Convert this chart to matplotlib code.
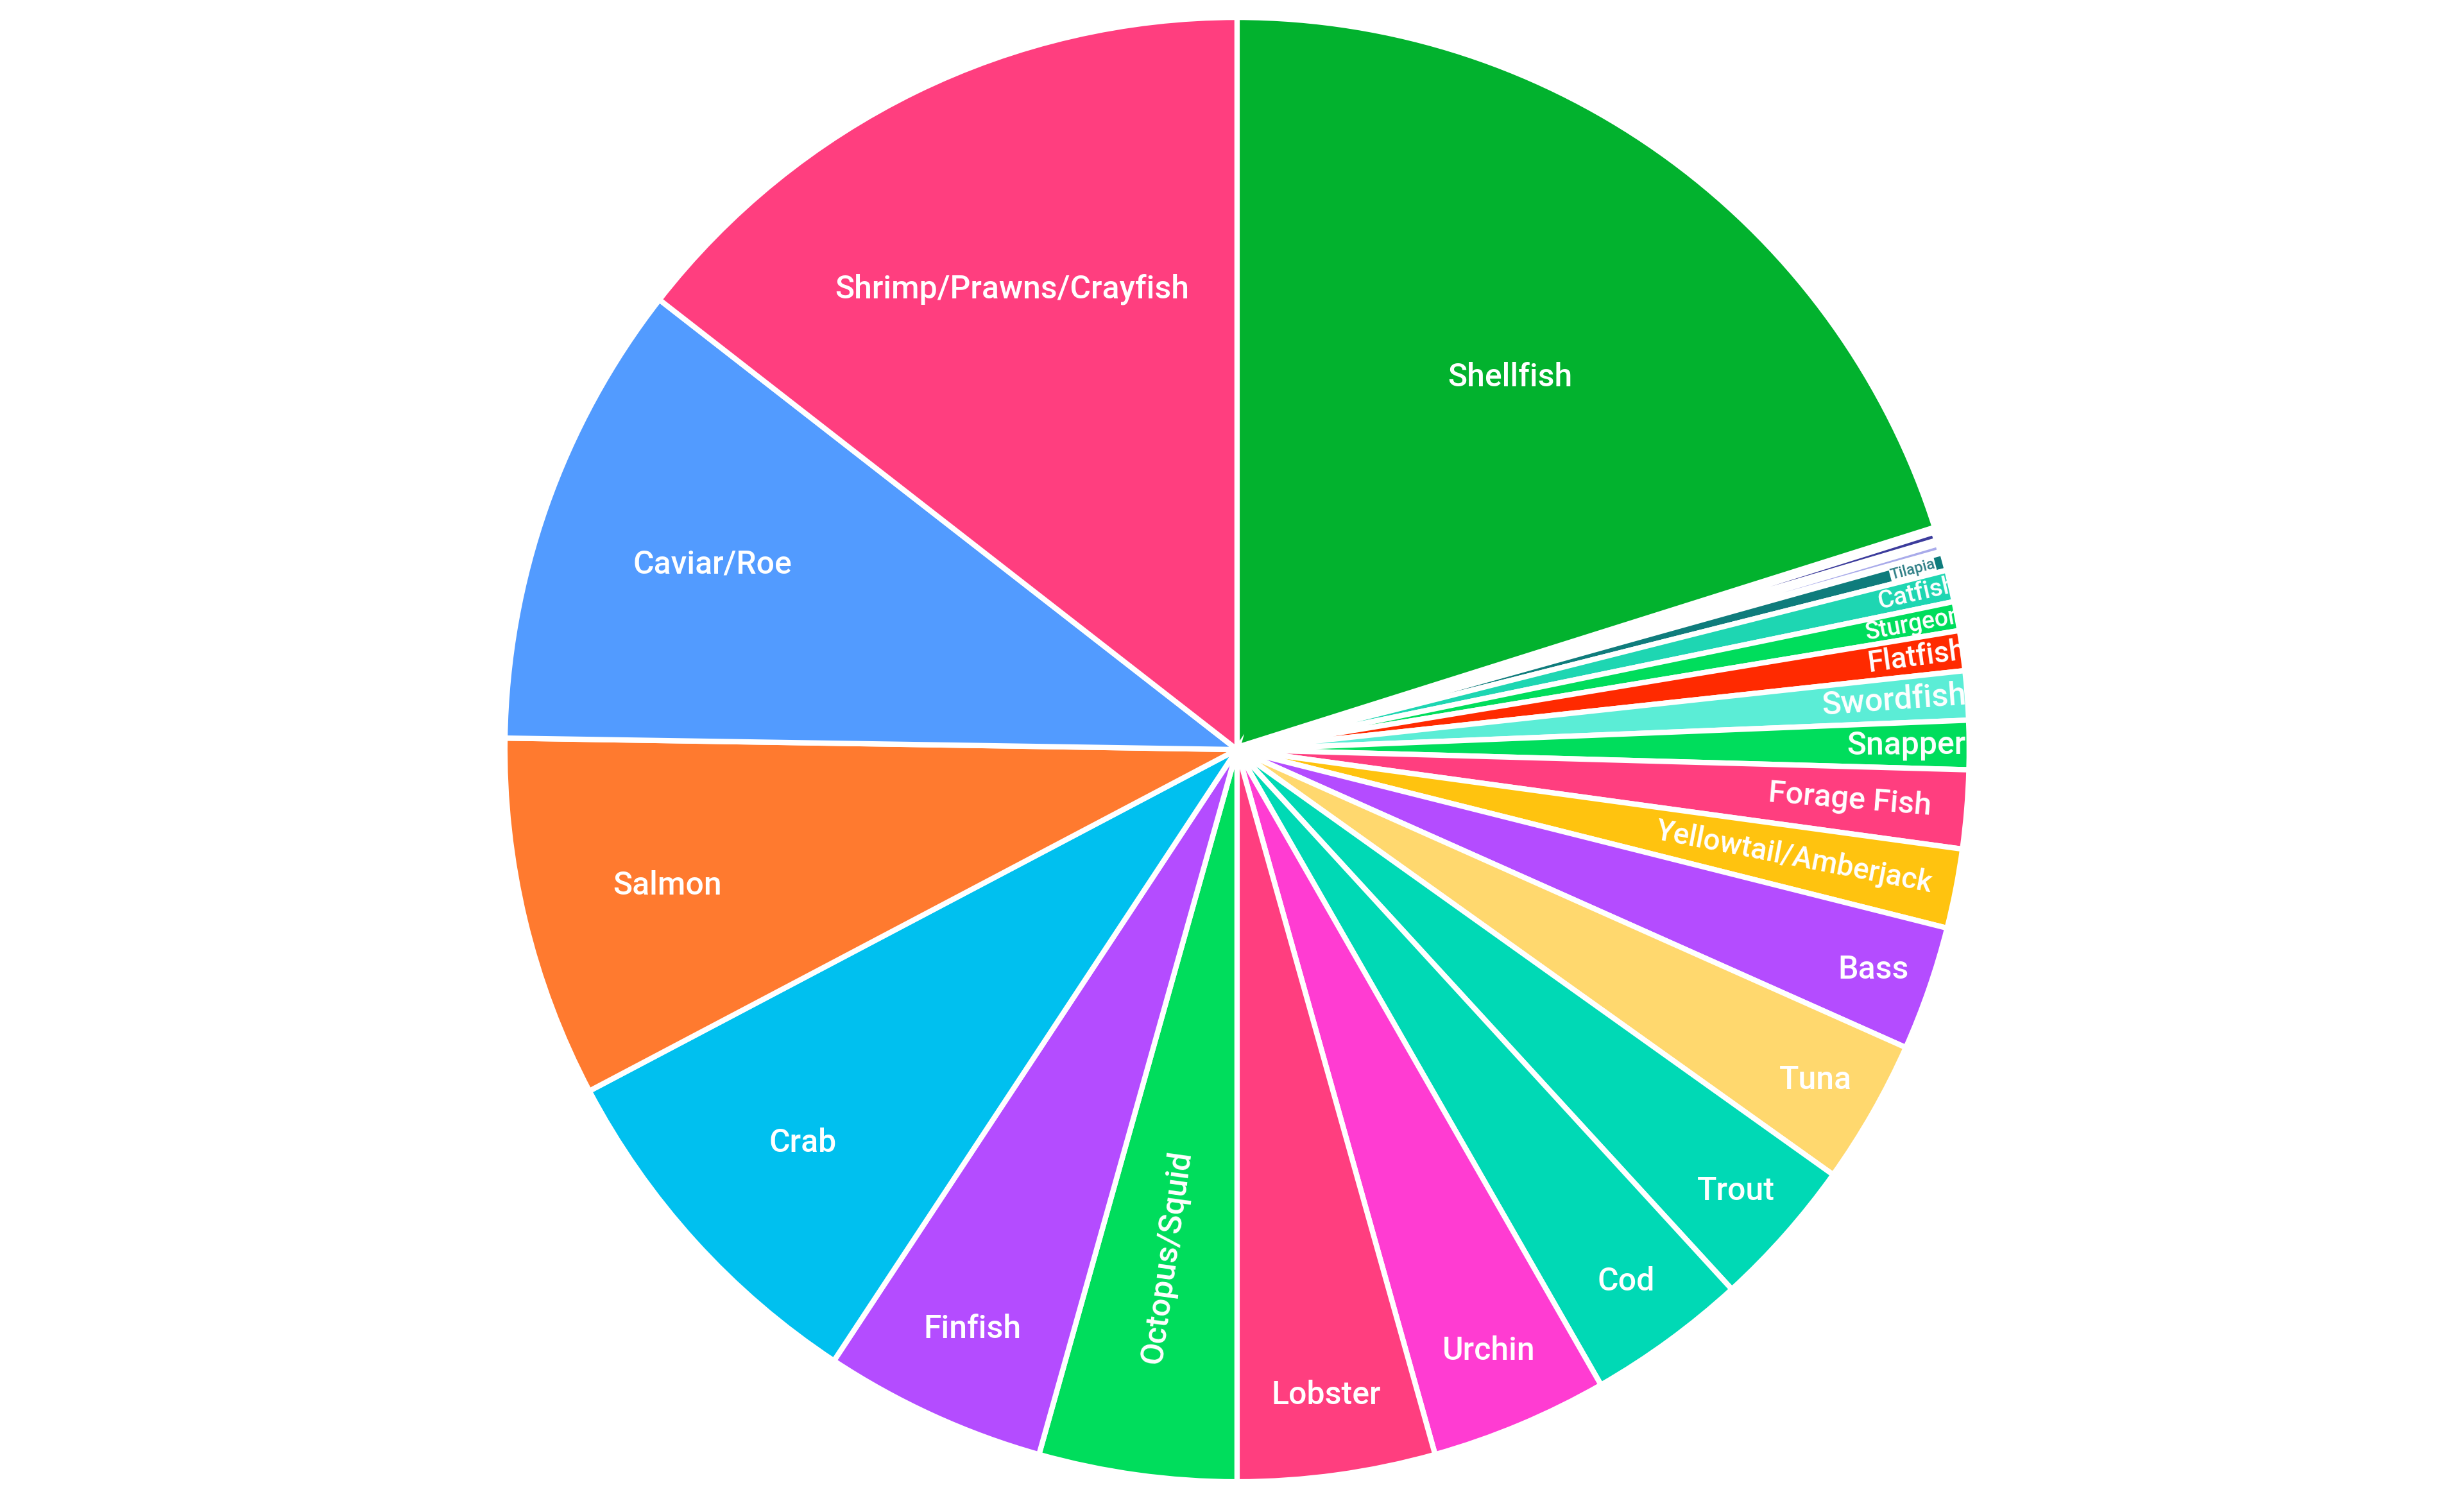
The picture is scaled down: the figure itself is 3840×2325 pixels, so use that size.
import numpy as np
import matplotlib.pyplot as plt
from matplotlib.patches import Circle

# seafood categories, clockwise from 12 o'clock
species = ['Shellfish', 'Mahi Mahi', 'Halibut', 'Tilapia', 'Catfish', 'Sturgeon',
           'Flatfish', 'Swordfish', 'Snapper', 'Forage Fish', 'Yellowtail/Amberjack',
           'Bass', 'Tuna', 'Trout', 'Cod', 'Urchin', 'Lobster', 'Octopus/Squid',
           'Finfish', 'Crab', 'Salmon', 'Caviar/Roe', 'Shrimp/Prawns/Crayfish']
share = [20.14, 0.28, 0.25, 0.39, 0.70, 0.64,
         0.88, 1.08, 1.08, 1.73, 1.75,
         2.75, 3.19, 3.33, 3.53, 3.92, 4.36, 4.36,
         4.92, 8.00, 7.97, 10.28, 14.47]
colors = ['#02B22E', '#3C3C9C', '#A9ABEA', '#0F7C7C', '#1ED6B2', '#00DD5C',
          '#FF2A00', '#5BEDD6', '#00DD5C', '#FF3E7F', '#FFC30F',
          '#B44CFF', '#FFD86E', '#00D9B5', '#00D9B5', '#FF3CD2', '#FF3E7F', '#00DD5C',
          '#B44CFF', '#00C0EF', '#FF7A2F', '#529BFF', '#FF3E7F']

# label placement: fraction of radius, font size, radial orientation
label_r = [0.63, 0, 0, 0.955, 0.953, 0.94,
           0.937, 0.90, 0.914, 0.84, 0.775,
           0.92, 0.91, 0.91, 0.90, 0.89, 0.89, 0.70,
           0.87, 0.80, 0.80, 0.76, 0.70]
label_size = [36, 0, 0, 17, 28, 27,
              33, 36, 36, 35, 33,
              36, 36, 36, 36, 36, 36, 36,
              36, 36, 36, 36, 36]
radial = {'Tilapia', 'Catfish', 'Sturgeon', 'Flatfish', 'Swordfish', 'Snapper',
          'Forage Fish', 'Yellowtail/Amberjack', 'Octopus/Squid'}
# slivers whose white border nearly swallows the fill
slivers = {'Mahi Mahi': 11, 'Halibut': 10}

plt.rcParams['font.family'] = ['Roboto', 'DejaVu Sans']

fig = plt.figure(figsize=(38.4, 23.25), dpi=100)
ax = fig.add_axes([0.2049, 0.00685, 0.5943, 0.9815])
wedges, _ = ax.pie(share, colors=colors, startangle=90, counterclock=False,
                   radius=1.0, wedgeprops=dict(edgecolor='white', linewidth=6))
ax.set_xlim(-1, 1)
ax.set_ylim(-1, 1)
ax.axis('off')

for w, name in zip(wedges, species):
    if name in slivers:
        w.set_linewidth(slivers[name])

rim = Circle((0, 0), 0.995, transform=ax.transData)

for w, name, r, fs in zip(wedges, species, label_r, label_size):
    if fs == 0:
        continue
    mid = (w.theta1 + w.theta2) / 2
    a = np.deg2rad(mid)
    rot = 0
    if name in radial:
        rot = mid
        if rot > 90 or rot < -90:
            rot += 180
    kw = dict(color='white')
    if name == 'Tilapia':
        kw = dict(color='#2E7F86', bbox=dict(fc='white', ec='none', pad=0.5))
    t = ax.text(r * np.cos(a), r * np.sin(a), name, ha='center', va='center',
                rotation=rot, rotation_mode='anchor', fontsize=fs,
                fontweight='medium', **kw)
    t.set_clip_path(rim)

fig.savefig('out.png', dpi=100, facecolor='white')
